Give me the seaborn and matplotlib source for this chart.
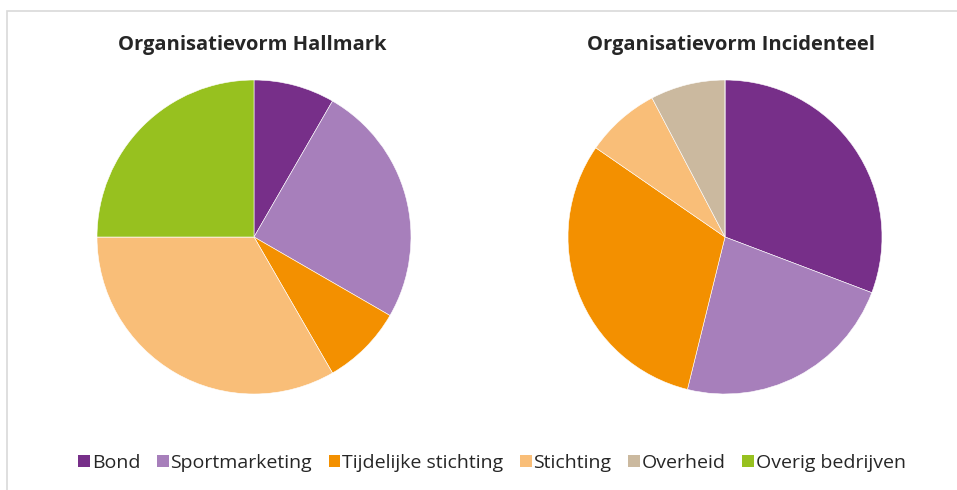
import matplotlib.pyplot as plt
import seaborn as sns
from matplotlib.patches import Patch, Rectangle

categories = ["Bond", "Sportmarketing", "Tijdelijke stichting", "Stichting", "Overheid", "Overig bedrijven"]
hallmark = [1, 3, 1, 4, 0, 3]
incidenteel = [4, 3, 4, 1, 1, 0]
colors = ["#772F89", "#A77FBB", "#F39000", "#F9BE78", "#CBB99F", "#97C11F"]
titles = ["Organisatievorm Hallmark", "Organisatievorm Incidenteel"]

sns.set_theme(style="white")
plt.rcParams["font.family"] = ["Open Sans", "DejaVu Sans"]

W, H = 957, 490
fig = plt.figure(figsize=(W / 100, H / 100), dpi=100)
fig.patch.set_facecolor("white")

# light frame (only top/left visible in the original crop)
fig.patches.append(Rectangle((7 / W, -0.1), 1.2, 1 - 10.5 / H + 0.1, transform=fig.transFigure,
                             fill=False, edgecolor="#D9D9D9", linewidth=1.2))

r = 157
for cx, vals in [(254, hallmark), (725, incidenteel)]:
    ax = fig.add_axes([(cx - r) / W, 1 - (237 + r) / H, 2 * r / W, 2 * r / H])
    ax.pie(vals, colors=colors, startangle=90, counterclock=False,
           wedgeprops=dict(edgecolor="white", linewidth=0.4))
    ax.set_xlim(-1, 1)
    ax.set_ylim(-1, 1)
    ax.set_aspect("auto")
    ax.axis("off")

fig.text(252 / W, 1 - 45 / H, titles[0], ha="center", va="center",
         fontsize=14.5, fontweight="bold", color="#262626")
fig.text(731 / W, 1 - 45 / H, titles[1], ha="center", va="center",
         fontsize=14.5, fontweight="bold", color="#262626")

handles = [Patch(facecolor=c, edgecolor="none") for c in colors]
fig.legend(handles, categories, loc="center", bbox_to_anchor=(492 / W, 1 - 463 / H), ncol=6,
           frameon=False, fontsize=14, handlelength=0.6, handleheight=0.6,
           handletextpad=0.1, columnspacing=0.85, labelcolor="#262626")

fig.savefig("out.png", dpi=100, facecolor="white")
